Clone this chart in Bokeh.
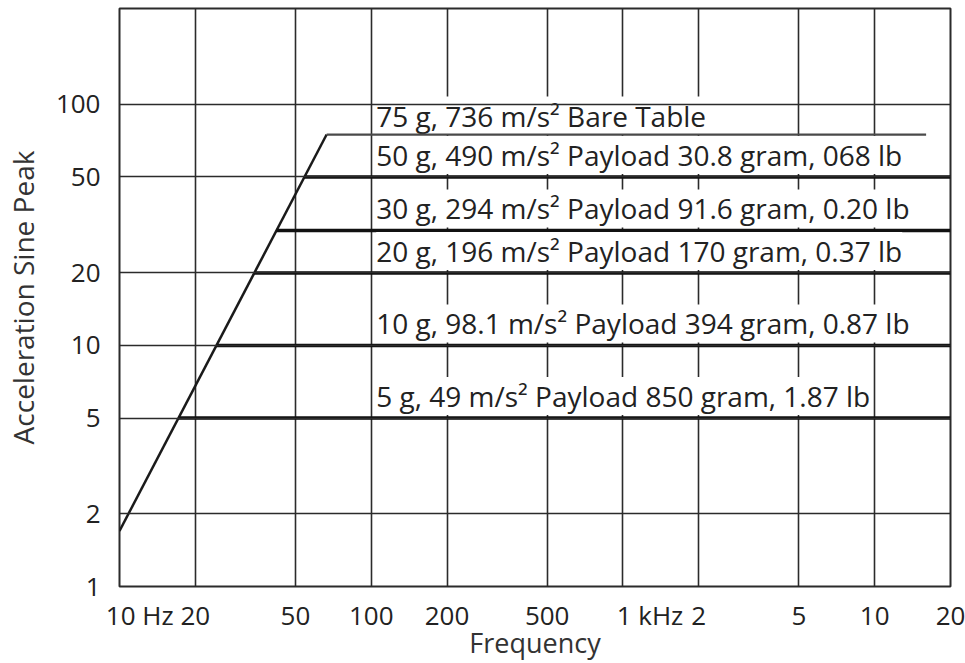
from bokeh.plotting import figure
from bokeh.models import Range1d, FixedTicker, Label
from bokeh.embed import file_html
from bokeh.resources import INLINE

NBSP = "\u00a0"

# Axis ticks (frequency in Hz, acceleration in g)
freq_ticks = [10, 20, 50, 100, 200, 500, 1000, 2000, 5000, 10000, 20000]
freq_tick_labels = [NBSP * 6 + "10 Hz", "20", "50", "100", "200", "500",
                    NBSP * 8 + "1 kHz", "2", "5", "10", "20"]
accel_ticks = [1, 2, 5, 10, 20, 50, 100]
accel_tick_labels = ["1", "2", "5", "10", "20", "50", "100"]

# Constant-displacement ramp up to the bare-table limit
ramp_freq = [10, 66.5]
ramp_accel = [1.7, 75]

# Bare table limit
bare_freq = [66.5, 16000]
bare_accel = [75, 75]

# Payload limits
payload_accel = [50, 30, 20, 10, 5]
payload_start_freq = [54.2, 42.0, 34.3, 24.3, 17.2]
payload_end_freq = [20000, 20000, 20000, 20000, 20000]

# Annotations for each limit
label_accel = [75, 50, 30, 20, 10, 5]
label_texts = [
    "75 g, 736 m/s\u00b2 Bare Table",
    "50 g, 490 m/s\u00b2 Payload 30.8 gram, 068 lb",
    "30 g, 294 m/s\u00b2 Payload 91.6 gram, 0.20 lb",
    "20 g, 196 m/s\u00b2 Payload 170 gram, 0.37 lb",
    "10 g, 98.1 m/s\u00b2 Payload 394 gram, 0.87 lb",
    "5 g, 49 m/s\u00b2 Payload 850 gram, 1.87 lb",
]

FONT = "Open Sans"
INK = "#222222"
GRID = "#2b2b2b"

p = figure(
    width=965, height=663,
    x_axis_type="log", y_axis_type="log",
    x_range=Range1d(10, 20000), y_range=Range1d(1, 250),
    output_backend="svg", toolbar_location=None,
    min_border_left=119, min_border_right=15,
    min_border_top=8, min_border_bottom=76,
    background_fill_color="white", border_fill_color="white",
)

p.outline_line_color = GRID
p.outline_line_width = 2

# Grid; horizontal lines stay on top of the label boxes
p.xgrid.ticker = FixedTicker(ticks=freq_ticks)
p.ygrid.ticker = FixedTicker(ticks=accel_ticks)
for g in (p.xgrid, p.ygrid):
    g.grid_line_color = GRID
    g.grid_line_width = 1.6
    g.grid_line_alpha = 1.0
p.ygrid.level = "overlay"

# Axes
p.xaxis.ticker = FixedTicker(ticks=freq_ticks)
p.yaxis.ticker = FixedTicker(ticks=accel_ticks)
p.xaxis.major_label_overrides = dict(zip(freq_ticks, freq_tick_labels))
p.yaxis.major_label_overrides = dict(zip(accel_ticks, accel_tick_labels))
for ax in (p.xaxis, p.yaxis):
    ax.axis_line_color = None
    ax.major_tick_line_color = None
    ax.minor_tick_line_color = None
    ax.major_tick_in = 0
    ax.major_tick_out = 0
    ax.major_label_text_font = FONT
    ax.major_label_text_font_size = "26px"
    ax.major_label_text_color = INK
    ax.axis_label_text_font = FONT
    ax.axis_label_text_font_style = "normal"
    ax.axis_label_text_color = "#333333"

p.xaxis.axis_label = "Frequency"
p.yaxis.axis_label = "Acceleration Sine Peak"
p.xaxis.axis_label_text_font_size = "27px"
p.yaxis.axis_label_text_font_size = "28px"
p.xaxis.major_label_standoff = 10
p.xaxis.axis_label_standoff = -12
p.yaxis.major_label_standoff = 19
p.yaxis.axis_label_standoff = 11

# Ramp and limit lines
p.line(ramp_freq, ramp_accel, line_color="#1a1a1a", line_width=2.5)
p.line(bare_freq, bare_accel, line_color="#4a4a4a", line_width=2.2, level="overlay")
p.segment(x0=payload_start_freq, y0=payload_accel,
          x1=payload_end_freq, y1=payload_accel,
          line_color="#111111", line_width=3.5)

# Limit annotations on white backing boxes that hide the grid behind the text
for acc, txt in zip(label_accel, label_texts):
    p.add_layout(Label(
        x=100, y=acc, x_offset=5, y_offset=19 if acc == 75 else 22,
        text=txt, text_font=FONT, text_font_size="28px", text_color=INK,
        text_align="left", text_baseline="alphabetic",
        background_fill_color="white", background_fill_alpha=1.0,
        padding=0,
    ))

open("out.html", "w").write(file_html(p, INLINE))
